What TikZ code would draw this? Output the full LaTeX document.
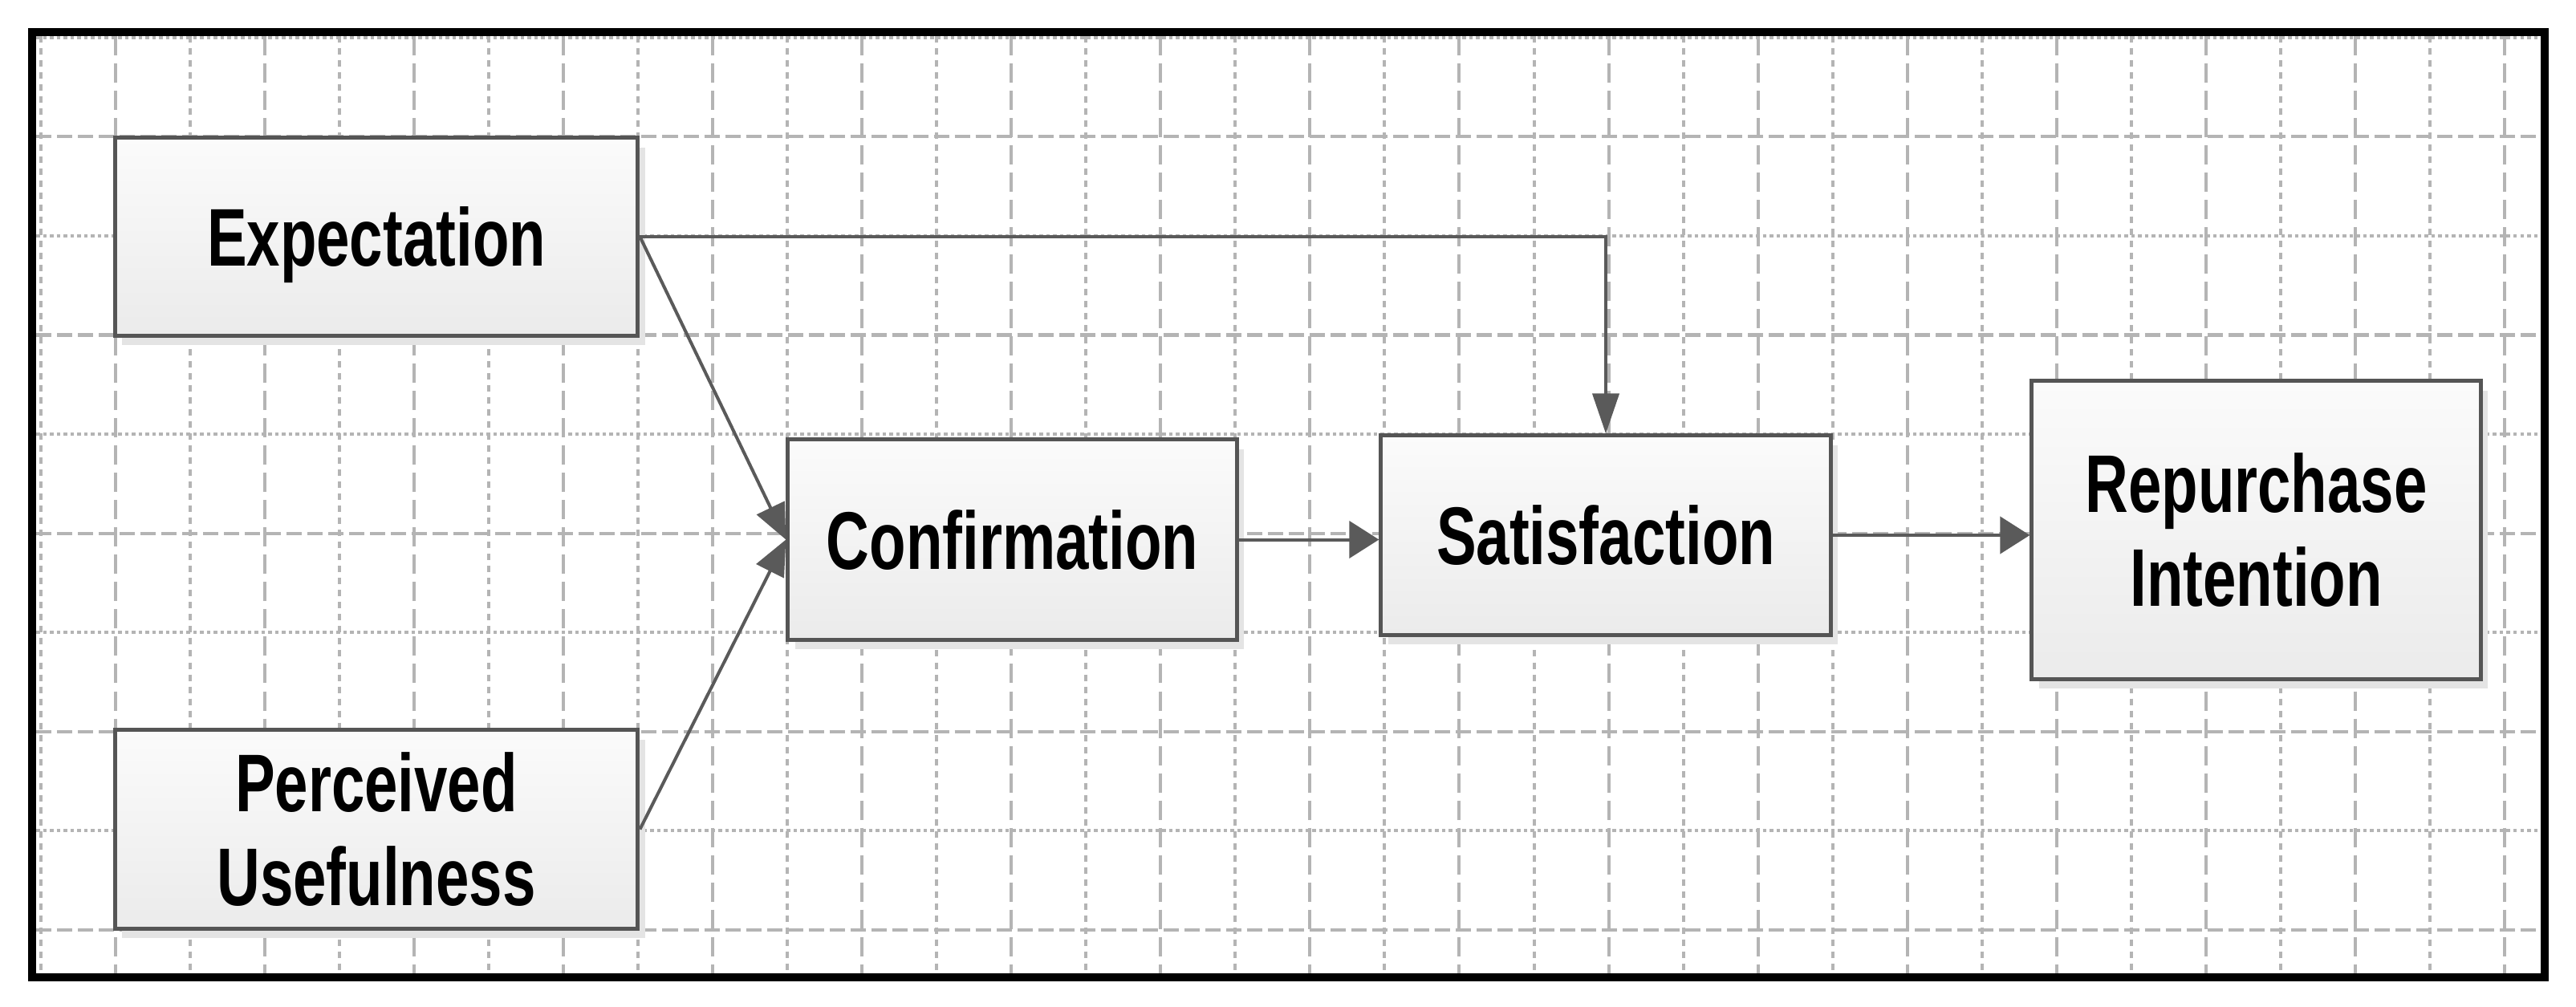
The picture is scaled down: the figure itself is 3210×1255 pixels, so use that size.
\documentclass[tikz,border=0pt]{standalone}
\usepackage{fontspec}
\newfontfamily\boxfont[FakeStretch=0.73]{Liberation Sans}
\usetikzlibrary{arrows.meta,shadows}
\definecolor{gridc}{HTML}{B4B4B4}
\definecolor{edgec}{HTML}{555555}
\definecolor{linec}{HTML}{5A5A5A}
\definecolor{shadowc}{HTML}{E4E4E4}
\definecolor{topc}{HTML}{FBFBFB}
\definecolor{botc}{HTML}{EBEBEB}
\begin{document}
\begin{tikzpicture}[x=0.01cm,y=-0.01cm,
  gmajv/.style={gridc,line width=0.04cm,dash pattern=on 0.24cm off 0.10cm},
  gminv/.style={gridc,line width=0.04cm,dash pattern=on 0.08cm off 0.07cm},
  gmajh/.style={gridc,line width=0.04cm,dash pattern=on 0.19cm off 0.07cm},
  gminh/.style={gridc,line width=0.04cm,dash pattern=on 0.045cm off 0.04cm},
  box/.style={draw=edgec,line width=0.05cm,top color=topc,bottom color=botc,
    drop shadow={shadow xshift=0.09cm,shadow yshift=-0.12cm,fill=shadowc,opacity=1},
    font=\boxfont\bfseries\fontsize{29}{33.3}\selectfont,text=black,align=center,inner sep=0pt},
  oneline/.style={text height=0.73cm,text depth=0cm},
  conn/.style={draw=linec,line width=0.04cm},
  harrow/.style={-{Triangle[length=0.37cm,width=0.46cm]}},
  varrow/.style={-{Triangle[length=0.50cm,width=0.33cm]}},
  darrow/.style={-{Triangle[length=0.44cm,width=0.38cm]}}]
\useasboundingbox (0,0) rectangle (3210,1255);
\fill[white] (0,0) rectangle (3210,1255);
% grid
\foreach \k in {0,...,33}{
  \pgfmathsetmacro{\gx}{50.5+93.05*\k}
  \ifodd\k \draw[gmajv] (\gx,45) -- (\gx,1213); \else \draw[gminv] (\gx,45) -- (\gx,1213); \fi
}
\foreach \j in {0,...,9}{
  \pgfmathsetmacro{\gy}{47+123.5*\j}
  \ifodd\j \draw[gmajh] (45,\gy) -- (3166,\gy); \else \draw[gminh] (45,\gy) -- (3166,\gy); \fi
}
% frame
\draw[line width=0.1cm,black] (40,40) rectangle (3171,1218);
% boxes
\node[box,oneline,minimum width=6.515cm,minimum height=2.46cm] (exp) at (469,295) {Expectation};
\node[box,minimum width=6.515cm,minimum height=2.47cm] (pu) at (469,1033.5) {Perceived\\Usefulness};
\node[box,oneline,minimum width=5.59cm,minimum height=2.49cm] (conf) at (1261.5,672.5) {Confirmation};
\node[box,oneline,minimum width=5.60cm,minimum height=2.48cm] (sat) at (2001,667) {Satisfaction};
\node[box,minimum width=5.59cm,minimum height=3.71cm] (rep) at (2811.5,660.5) {Repurchase\\Intention};
% connectors
\draw[conn,varrow] (exp.east) -| (sat.north);
\draw[conn,darrow] (exp.east) -- (conf.west);
\draw[conn,darrow] (pu.east) -- (conf.west);
\draw[conn,harrow] (conf.east) -- (conf.east -| sat.west);
\draw[conn,harrow] (sat.east) -- (sat.east -| rep.west);
\end{tikzpicture}
\end{document}
